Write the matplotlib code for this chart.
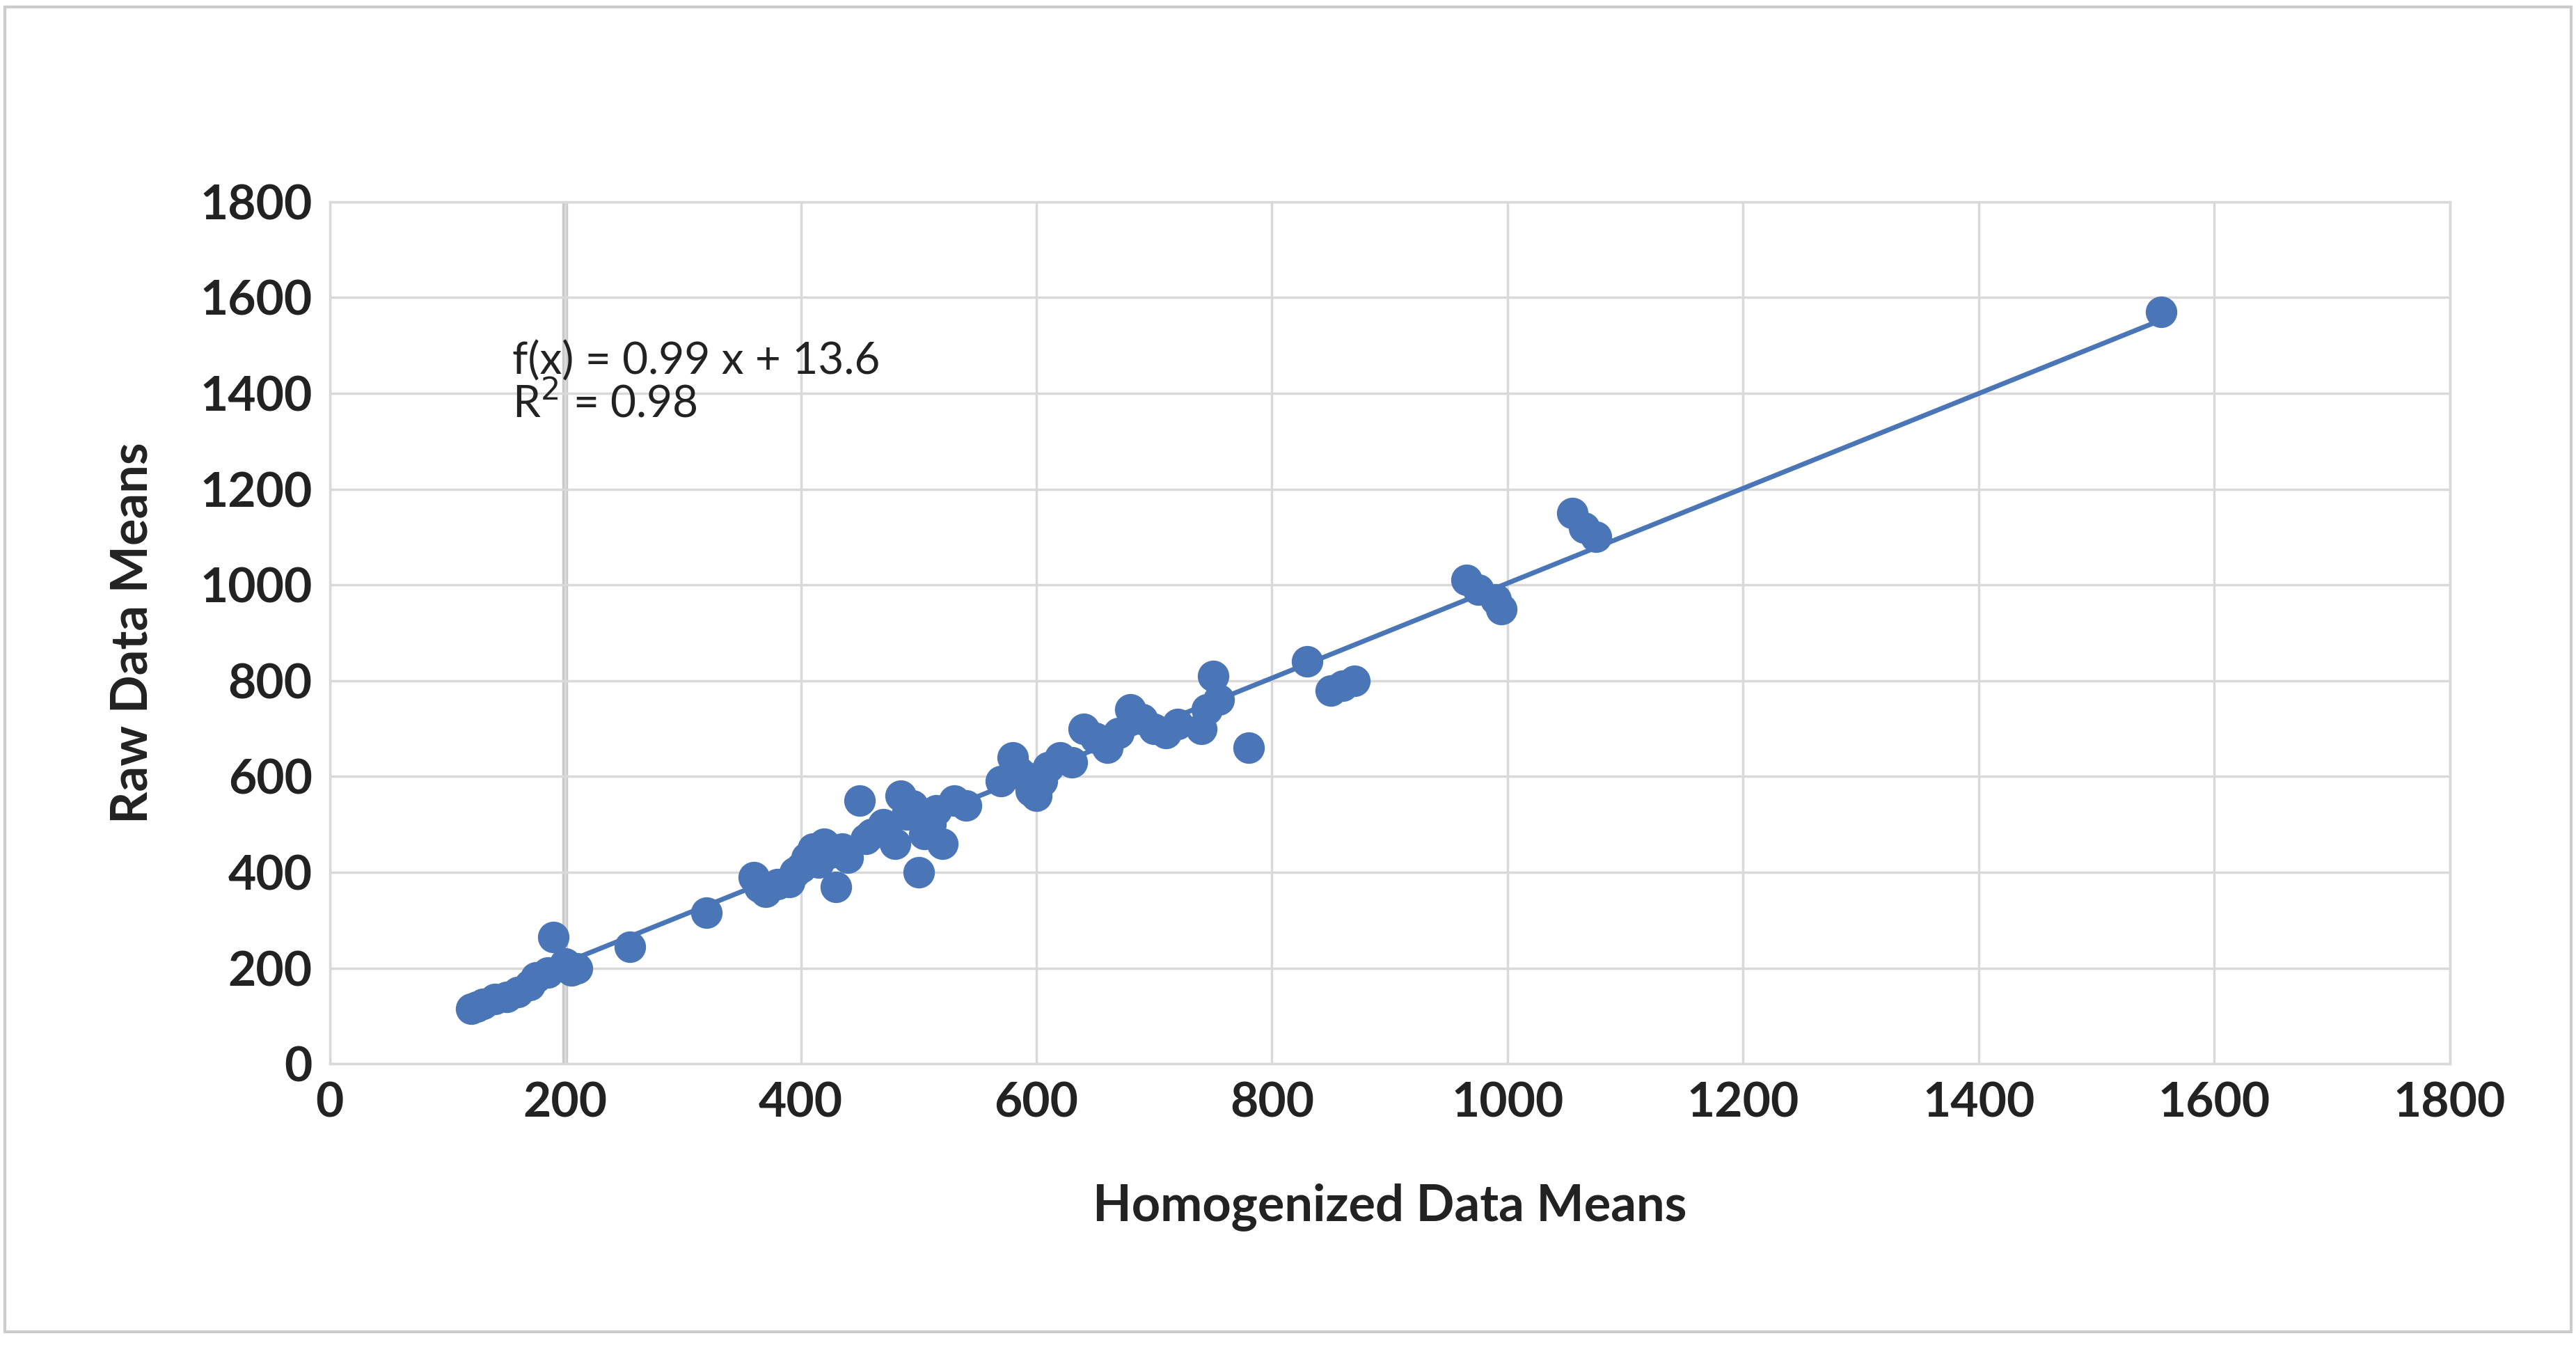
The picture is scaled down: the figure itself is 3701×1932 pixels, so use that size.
import matplotlib.pyplot as plt
import numpy as np

plt.rcParams['font.family'] = ['Lato', 'DejaVu Sans']

# homogenized (x) vs raw (y) means
homog = [120, 125, 130, 140, 150, 160, 170, 175, 185, 190, 200, 205, 210, 255, 320,
         360, 365, 370, 380, 390, 395, 400, 405, 410, 415, 420, 425, 430, 435, 440,
         450, 455, 460, 470, 480, 485, 490, 495, 500, 505, 510, 515, 520, 530, 540,
         570, 580, 585, 590, 595, 600, 605, 610, 620, 630, 640, 650, 660, 670, 680,
         690, 700, 710, 720, 740, 745, 750, 755, 780, 830, 850, 860, 870, 965, 975,
         990, 995, 1055, 1065, 1075, 1555]
raw = [115, 120, 125, 135, 140, 150, 165, 180, 190, 265, 210, 195, 200, 245, 315,
       390, 370, 360, 375, 380, 400, 410, 430, 450, 420, 460, 440, 370, 450, 430,
       550, 470, 480, 500, 460, 560, 520, 540, 400, 480, 500, 530, 460, 550, 540,
       590, 640, 610, 600, 570, 560, 590, 620, 640, 630, 700, 680, 660, 690, 740,
       720, 700, 690, 710, 700, 740, 810, 760, 660, 840, 780, 790, 800, 1010, 990,
       970, 950, 1150, 1120, 1100, 1570]
slope, intercept = 0.99, 13.6
ticks = np.arange(0, 1801, 200)

blue = '#4a76b8'
fig = plt.figure(figsize=(37.01, 19.32), dpi=100)
ax = fig.add_axes([0.128, 0.209, 0.823, 0.641])

ax.scatter(homog, raw, s=1000, color=blue, zorder=3)
xl = np.array([min(homog), max(homog)])
ax.plot(xl, slope * xl + intercept, color=blue, lw=5, zorder=2)

ax.set_xlim(0, 1800)
ax.set_ylim(0, 1800)
ax.set_xticks(ticks)
ax.set_yticks(ticks)
ax.grid(True, color='#d9d9d9', lw=2.5, zorder=0)
ax.axvline(200, color='#c8c8c8', lw=6, zorder=1)
for s in ax.spines.values():
    s.set_color('#d9d9d9')
    s.set_linewidth(2.5)
ax.tick_params(length=0, labelsize=50, pad=18)
for lab in ax.get_xticklabels() + ax.get_yticklabels():
    lab.set_fontweight('bold')
    lab.set_color('#222222')

ax.set_xlabel('Homogenized Data Means', fontsize=52, fontweight='bold', labelpad=60, color='#222222')
ax.set_ylabel('Raw Data Means', fontsize=52, fontweight='bold', labelpad=45, color='#222222')

ax.text(155, 1510, f'f(x) = {slope} x + {intercept}\nR$^2$ = 0.98', fontsize=46,
        va='top', ha='left', color='#222222', linespacing=1.0)

fig.patches.append(plt.Rectangle((0.002, 0.01), 0.996, 0.985, transform=fig.transFigure,
                                 fill=False, edgecolor='#cccccc', lw=3))
fig.savefig('out.png', dpi=100)
